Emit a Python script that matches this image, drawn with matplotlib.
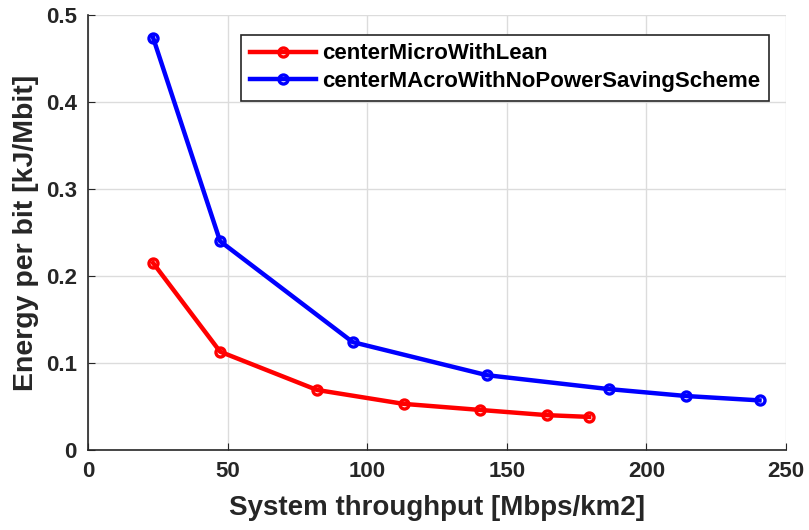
#!/usr/bin/env python3
'''
Energy per bit versus system throughput, micro with lean vs macro
'''
import matplotlib.pyplot as plt

micro_x = [23.3, 47.3, 82.0, 113.0, 140.5, 164.5, 179.5]
micro_y = [0.215, 0.113, 0.069, 0.053, 0.046, 0.040, 0.038]
macro_x = [23.3, 47.3, 94.8, 142.8, 186.5, 214.3, 240.5]
macro_y = [0.474, 0.240, 0.124, 0.086, 0.070, 0.062, 0.057]
labels = ['centerMicroWithLean', 'centerMAcroWithNoPowerSavingScheme']

plt.rcParams['font.family'] = ['Liberation Sans', 'DejaVu Sans']
plt.rcParams['font.weight'] = 'bold'

fig = plt.figure(figsize=(8.09, 5.30), dpi=100)
ax = fig.add_axes([0.1088, 0.1510, 0.8628, 0.8207])

ax.plot(micro_x, micro_y, color='red', lw=3.2, marker='o', ms=6.5,
        mfc='none', mew=2.4, label=labels[0])
ax.plot(macro_x, macro_y, color='blue', lw=3.2, marker='o', ms=6.5,
        mfc='none', mew=2.4, label=labels[1])

ax.set_xlim(0, 250)
ax.set_ylim(0, 0.5)
ax.set_xticks([0, 50, 100, 150, 200, 250])
ax.set_yticks([0, 0.1, 0.2, 0.3, 0.4, 0.5])
ax.set_yticklabels(['0', '0.1', '0.2', '0.3', '0.4', '0.5'])
ax.grid(True, color='#dcdcdc', lw=1)
ax.set_axisbelow(True)
ax.spines['top'].set_visible(False)
ax.spines['right'].set_visible(False)
ax.spines['left'].set_linewidth(1.2)
ax.spines['bottom'].set_linewidth(1.2)
ax.spines['left'].set_color('#262626')
ax.spines['bottom'].set_color('#262626')
ax.tick_params(direction='in', length=5, labelsize=16, pad=8,
               colors='#262626')
ax.set_xlabel('System throughput [Mbps/km2]', fontsize=20,
              fontweight='bold', color='#262626', labelpad=9)
ax.set_ylabel('Energy per bit [kJ/Mbit]', fontsize=20.5,
              fontweight='bold', color='#262626', labelpad=5)

leg = ax.legend(loc='upper right', bbox_to_anchor=(0.976, 0.955),
                fontsize=16, fancybox=False, edgecolor='#262626',
                framealpha=1, handlelength=3.0, handletextpad=0.27,
                borderpad=0.4, labelspacing=0.3, borderaxespad=0)
leg.get_frame().set_linewidth(1.2)

fig.savefig('out.png', dpi=100)
